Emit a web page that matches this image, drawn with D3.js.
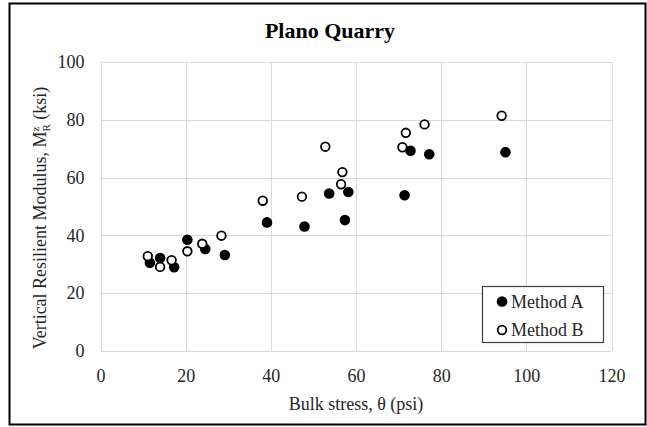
<!DOCTYPE html>
<html><head><meta charset="utf-8">
<script src="https://cdn.jsdelivr.net/npm/d3@7"></script>
<style>body{margin:0;background:#fff}svg{display:block}svg text{font-family:"Liberation Serif","Times New Roman",serif !important;fill:#262626}</style>
</head><body>
<svg id="c" width="647" height="427"></svg>
<script>
const methodA_x = [11.6, 14.0, 17.3, 20.4, 24.6, 29.2, 39.1, 47.9, 53.7, 57.4, 58.2, 71.4, 72.8, 77.2, 95.1];
const methodA_y = [30.5, 32.2, 29.0, 38.5, 35.3, 33.2, 44.5, 43.1, 54.5, 45.3, 55.0, 53.9, 69.3, 68.1, 68.8];
const methodB_x = [11.1, 14.0, 16.7, 20.4, 23.9, 28.4, 38.1, 47.3, 52.8, 56.5, 56.8, 70.9, 71.7, 76.1, 94.2];
const methodB_y = [32.8, 29.1, 31.4, 34.5, 37.1, 39.9, 52.0, 53.4, 70.7, 57.7, 61.9, 70.5, 75.5, 78.4, 81.4];
const xTicks = [0, 20, 40, 60, 80, 100, 120];
const yTicks = [0, 20, 40, 60, 80, 100];
const seriesNames = ["Method A", "Method B"];
const titleText = "Plano Quarry";
const xLabel = "Bulk stress, θ (psi)";

const serif = '"Liberation Serif","Times New Roman",serif';
const svg = d3.select("#c");
svg.append("rect").attr("x",9.5).attr("y",3.5).attr("width",636).attr("height",421)
  .attr("fill","#fff").attr("stroke","#000").attr("stroke-width",2);

const x = d3.scaleLinear().domain([0,120]).range([100.5, 611.5]);
const y = d3.scaleLinear().domain([0,100]).range([351, 62]);

// grid
svg.append("g").selectAll("line").data(xTicks).join("line")
  .attr("x1",d=>Math.round(x(d))+0.5).attr("x2",d=>Math.round(x(d))+0.5)
  .attr("y1",y(0)).attr("y2",y(100)).attr("stroke","#d9d9d9").attr("stroke-width",1);
svg.append("g").selectAll("line").data(yTicks).join("line")
  .attr("y1",d=>Math.round(y(d))+0.5).attr("y2",d=>Math.round(y(d))+0.5)
  .attr("x1",x(0)).attr("x2",x(120)).attr("stroke","#d9d9d9").attr("stroke-width",1);

// axes labels via d3 axes (no domain/ticks lines)
const xAxis = svg.append("g").attr("transform",`translate(0,${y(0)})`)
  .call(d3.axisBottom(x).tickValues(xTicks).tickSize(0).tickPadding(18));
xAxis.attr("font-family",serif).attr("font-size",18);
xAxis.select(".domain").remove();
xAxis.selectAll("text").style("font-family",serif).style("font-size","18px").attr("fill","#262626");
const yAxis = svg.append("g").attr("transform",`translate(${x(0)},0)`)
  .call(d3.axisLeft(y).tickValues(yTicks).tickSize(0).tickPadding(16));
yAxis.attr("font-family",serif).attr("font-size",18);
yAxis.select(".domain").remove();
yAxis.selectAll("text").style("font-family",serif).style("font-size","18px").attr("fill","#262626").attr("dy","0.32em");

// title
svg.append("text").attr("x",330).attr("y",38).attr("text-anchor","middle")
  .attr("font-size",22).attr("font-weight","bold").style("fill","#000").text(titleText);

// x label
svg.append("text").attr("x",356).attr("y",410).attr("text-anchor","middle")
  .attr("font-size",18).text(xLabel);

// y label
const yl = svg.append("text").attr("transform","translate(46,218) rotate(-90)")
  .attr("text-anchor","middle").attr("font-size",18);
yl.append("tspan").text("Vertical Resilient Modulus, M");
yl.append("tspan").attr("font-size",11).attr("dy",-7).text("z");
yl.append("tspan").attr("font-size",11).attr("dx",-5).attr("dy",11).text("R");
yl.append("tspan").attr("dy",-4).text(" (ksi)");

// points
const dataA = methodA_x.map((v,i)=>({x:v,y:methodA_y[i]}));
const dataB = methodB_x.map((v,i)=>({x:v,y:methodB_y[i]}));
svg.append("g").selectAll("circle").data(dataA).join("circle")
  .attr("cx",d=>x(d.x)).attr("cy",d=>y(d.y)).attr("r",5.3).attr("fill","#000");
svg.append("g").selectAll("circle").data(dataB).join("circle")
  .attr("cx",d=>x(d.x)).attr("cy",d=>y(d.y)).attr("r",4.3)
  .attr("fill","#fff").attr("stroke","#000").attr("stroke-width",1.8);

// legend
const lg = svg.append("g");
lg.append("rect").attr("x",482.5).attr("y",286.5).attr("width",121).attr("height",56)
  .attr("fill","#fff").attr("stroke","#404040").attr("stroke-width",1.2);
lg.append("circle").attr("cx",502).attr("cy",301.5).attr("r",5.3).attr("fill","#000");
lg.append("circle").attr("cx",502).attr("cy",330).attr("r",4.3).attr("fill","#fff").attr("stroke","#000").attr("stroke-width",1.8);
lg.append("text").attr("x",511).attr("y",307.5).attr("font-size",18).text(seriesNames[0]);
lg.append("text").attr("x",511).attr("y",336).attr("font-size",18).text(seriesNames[1]);
</script>
</body></html>
